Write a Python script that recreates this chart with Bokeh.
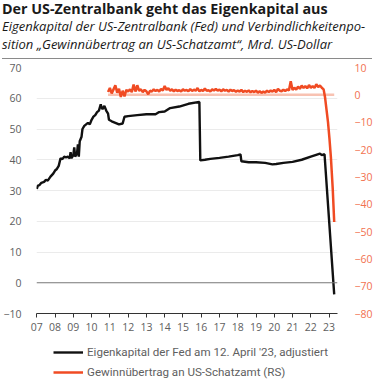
import numpy as np
from bokeh.plotting import figure
from bokeh.models import Range1d, LinearAxis, FixedTicker, Legend, LegendItem, Span, Div
from bokeh.layouts import column
from bokeh.embed import file_html
from bokeh.resources import INLINE

# ---------------- data ----------------
title = "Der US-Zentralbank geht das Eigenkapital aus"
subtitle1 = "Eigenkapital der US-Zentralbank (Fed) und Verbindlichkeitenpo-"
subtitle2 = "sition \u201eGewinn\u00fcbertrag an US-Schatzamt\u201c, Mrd. US-Dollar"
legend_black = "Eigenkapital der Fed am 12. April '23, adjustiert"
legend_red = "Gewinn\u00fcbertrag an US-Schatzamt (RS)"

x_years = list(range(2007, 2024))
x_labels = ["07", "08", "09", "10", "11", "12", "13", "14", "15", "16", "17", "18", "19", "20", "21", "22", "23"]
left_ticks = [-10, 0, 10, 20, 30, 40, 50, 60, 70]
right_ticks = [-80, -70, -60, -50, -40, -30, -20, -10, 0, 10]

equity_dates = [2007.0, 2007.05, 2007.15, 2007.25, 2007.4, 2007.5, 2007.6, 2007.75, 2007.9, 2008.0,
                2008.1, 2008.2, 2008.3, 2008.4, 2008.5, 2008.6, 2008.7, 2008.8, 2008.85, 2008.9,
                2009.0, 2009.05, 2009.1, 2009.2, 2009.25, 2009.3, 2009.35, 2009.45, 2009.5, 2009.6,
                2009.7, 2009.8, 2009.9, 2010.0, 2010.1, 2010.2, 2010.3, 2010.4, 2010.5, 2010.55,
                2010.6, 2010.7, 2010.8, 2010.9, 2010.95, 2011.1, 2011.3, 2011.5, 2011.7, 2011.8,
                2012.0, 2012.5, 2013.0, 2013.5, 2013.7, 2014.0, 2014.3, 2014.8, 2015.3, 2015.9,
                2015.95, 2016.2, 2016.5, 2017.0, 2017.5, 2018.0, 2018.15, 2018.2, 2018.6, 2019.0,
                2019.5, 2019.9, 2020.1, 2020.5, 2021.0, 2021.5, 2022.0, 2022.5, 2022.6, 2022.75,
                2023.28]
equity_values = [30.5, 31.5, 31.8, 32.5, 32.8, 33.5, 33.2, 34.5, 35.5, 36.5,
                 37.0, 38.0, 40.5, 40.2, 41.0, 40.8, 41.0, 40.5, 42.5, 40.5,
                 41.5, 44.0, 41.0, 42.0, 45.0, 41.0, 46.0, 47.5, 50.0, 51.0,
                 51.5, 52.0, 51.5, 53.0, 54.0, 54.5, 55.5, 56.0, 58.0, 57.0,
                 56.5, 57.5, 56.0, 55.0, 53.0, 52.5, 52.0, 51.5, 51.8, 54.0,
                 54.2, 54.5, 54.8, 54.8, 55.5, 55.7, 56.8, 57.3, 58.2, 58.8,
                 39.8, 40.0, 40.3, 40.6, 41.0, 41.5, 41.7, 39.5, 39.2, 39.2,
                 39.0, 38.5, 38.6, 39.0, 39.3, 40.0, 41.0, 42.0, 41.5, 41.8,
                 -3.8]

remit_dense_dates = [round(v, 2) for v in np.arange(2010.9, 2022.75, 0.1)]
remit_dense_values = [1.0, 2.5, 0.5, 2.0, 3.5, 0.8, 2.2, -0.8, 1.5, -0.6,
                      1.8, 1.2, 2.0, 1.0, 3.8, 1.2, 3.5, 1.5, 2.0, 1.0,
                      1.8, 1.3, 0.2, 1.5, 1.2, 2.0, 1.4, 1.8, 1.2, 2.2,
                      1.6, 3.2, 1.8, 2.4, 1.5, 2.0, 1.3, 1.9, 1.4, 1.7,
                      1.2, 2.0, 1.5, 1.8, 1.3, 2.1, 1.4, 1.9, 1.5, 2.5,
                      1.3, 1.8, 1.4, 2.3, 1.5, 1.7, 1.2, 2.0, 1.6, 2.2,
                      1.5, 1.9, 1.3, 2.0, 1.5, 1.8, 1.2, 1.9, 1.4, 1.7,
                      1.1, 1.6, 1.2, 1.8, 1.0, 1.5, 1.1, 1.6, 0.9, 1.4,
                      1.0, 1.5, 0.8, 1.3, 0.7, 1.2, 0.8, 1.5, 1.0, 1.6,
                      1.2, 1.8, 1.0, 2.2, 1.5, 1.3, 1.9, 1.4, 2.0, 1.6,
                      5.0, 1.8, 2.6, 1.9, 3.0, 2.2, 3.4, 2.5, 3.2, 2.4,
                      3.6, 2.6, 3.2, 2.5, 3.9, 2.8, 3.4, 2.6, 2.0]
remit_tail_dates = [2022.78, 2022.86, 2022.94, 2023.02, 2023.1, 2023.2, 2023.28]
remit_tail_values = [-1.0, -5.5, -10.0, -16.0, -23.0, -34.5, -46.5]
remit_dates = remit_dense_dates + remit_tail_dates
remit_values = remit_dense_values + remit_tail_values
zero_dates = [2010.9, 2023.28]
zero_values = [0, 0]

# ---------------- style ----------------
FONT = "Open Sans"
LEG_FONT = "Roboto"
BLACK = "#111111"
RED = "#f04b23"
PINK = "#f8c2b2"
RED_LABEL = "#f2714f"
GRAY = "#606060"
TICK_FS = "10.5px"

W = 375
HEAD_H = 60
FIG_H = 280
LEG_H = 42
ML, MR, MT, MB = 33, 33, 7, 27

header = Div(
    text=(
        f'<div style="font-family:\'Open Sans\',sans-serif;color:#1a1a1a;width:{W}px;">'
        f'<div style="font-weight:bold;font-size:14.3px;line-height:17px;padding-left:2px;white-space:nowrap;">{title}</div>'
        f'<div style="font-style:italic;font-size:13px;line-height:18px;padding-left:2px;white-space:nowrap;">{subtitle1}</div>'
        f'<div style="font-style:italic;font-size:13px;line-height:18px;padding-left:2px;white-space:nowrap;">{subtitle2}</div>'
        f'<div style="margin-top:5px;border-top:1.5px solid #8a8a8a;margin-left:2px;width:{W - 5}px;"></div>'
        '</div>'
    ),
    width=W, height=HEAD_H, margin=0,
)

p = figure(width=W, height=FIG_H, output_backend="svg", toolbar_location=None,
           x_range=Range1d(2006.984, 2023.46), y_range=Range1d(-10, 70),
           min_border_left=ML, min_border_right=MR, min_border_top=MT, min_border_bottom=MB,
           outline_line_color=None, background_fill_color="white", border_fill_color="white")
p.extra_y_ranges = {"rs": Range1d(-80, 10)}

# x axis
xa = p.xaxis[0]
xa.ticker = FixedTicker(ticks=x_years)
xa.major_label_overrides = {y: l for y, l in zip(x_years, x_labels)}
xa.axis_line_color = "#333333"
xa.axis_line_width = 1
xa.major_tick_line_color = "#333333"
xa.major_tick_out = 4
xa.major_tick_in = 0
xa.minor_tick_line_color = None
xa.major_label_text_font = FONT
xa.major_label_text_font_size = TICK_FS
xa.major_label_text_color = GRAY
xa.major_label_standoff = 5

# left axis
ya = p.yaxis[0]
ya.ticker = FixedTicker(ticks=left_ticks)
ya.axis_line_color = None
ya.major_tick_line_color = None
ya.minor_tick_line_color = None
ya.major_label_text_font = FONT
ya.major_label_text_font_size = TICK_FS
ya.major_label_text_color = GRAY
ya.major_label_standoff = 9

# right axis
ra = LinearAxis(y_range_name="rs", ticker=FixedTicker(ticks=right_ticks))
ra.axis_line_color = None
ra.major_tick_line_color = None
ra.minor_tick_line_color = None
ra.major_label_text_font = FONT
ra.major_label_text_font_size = TICK_FS
ra.major_label_text_color = RED_LABEL
ra.major_label_standoff = 11
p.add_layout(ra, "right")

p.xgrid.grid_line_color = None
p.ygrid.ticker = FixedTicker(ticks=[10, 20, 30, 40, 50, 60, 70])
p.ygrid.grid_line_color = "#ebebeb"
p.ygrid.grid_line_width = 1

p.add_layout(Span(location=0, dimension="width", line_color="#777777", line_width=1))

# series
p.line(zero_dates, zero_values, y_range_name="rs", line_color=PINK, line_width=2.5)
p.line(remit_dates, remit_values, y_range_name="rs", line_color=RED, line_width=2.5)
p.line(equity_dates, equity_values, line_color=BLACK, line_width=2.4)

# legend in its own strip below the chart (series drawn out of view, only the legend shows)
lg = figure(width=W, height=LEG_H, output_backend="svg", toolbar_location=None,
            x_axis_type=None, y_axis_type=None,
            x_range=Range1d(0, 1), y_range=Range1d(1000, 1001),
            min_border_left=0, min_border_right=0, min_border_top=0, min_border_bottom=0,
            outline_line_color=None, background_fill_color="white", border_fill_color="white")
lg.grid.grid_line_color = None
k_black = lg.line(equity_dates, equity_values, line_color=BLACK, line_width=2.4)
k_red = lg.line(remit_dates, remit_values, line_color=RED, line_width=2.5)
leg = Legend(items=[LegendItem(label=legend_black, renderers=[k_black]),
                    LegendItem(label=legend_red, renderers=[k_red])],
             location=(17, 0), orientation="vertical",
             border_line_color=None, background_fill_alpha=0,
             glyph_width=30, glyph_height=20, label_standoff=4, spacing=0,
             padding=0, margin=0, label_text_font=LEG_FONT, label_text_font_size="11.6px",
             label_text_color=GRAY, label_height=20)
lg.add_layout(leg)

layout = column(header, p, lg, spacing=0)

open("out.html", "w").write(file_html(layout, INLINE))
